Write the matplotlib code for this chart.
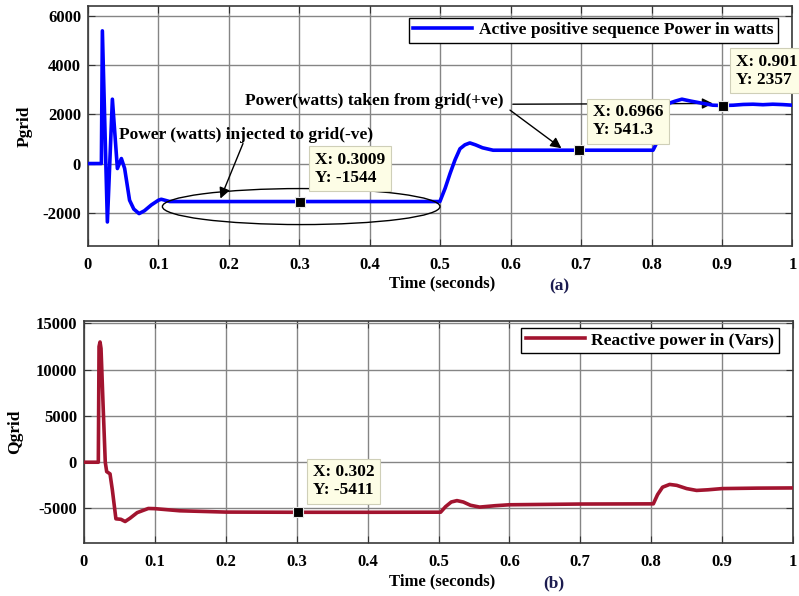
import matplotlib
matplotlib.use("Agg")
import matplotlib.pyplot as plt
from matplotlib.patches import Ellipse

plt.rcParams['font.family'] = ['Liberation Serif', 'DejaVu Serif']
plt.rcParams['font.weight'] = 'bold'
plt.rcParams['axes.labelweight'] = 'bold'
plt.rcParams['axes.unicode_minus'] = False
plt.rcParams['font.size'] = 12

# active power (W) vs time (s)
t_p = [0, 0.019, 0.0204, 0.0275, 0.0346, 0.0417, 0.0474, 0.052, 0.059, 0.065,
       0.0725, 0.08, 0.09, 0.1, 0.104, 0.116, 0.2, 0.3009, 0.4, 0.4995,
       0.507, 0.514, 0.521, 0.528, 0.535, 0.542, 0.55, 0.56, 0.575, 0.6,
       0.6966, 0.802, 0.807, 0.812, 0.818, 0.825, 0.833, 0.843, 0.855, 0.869,
       0.887, 0.901, 0.916, 0.93, 0.944, 0.958, 0.972, 0.986, 1.0]
p_grid = [0, 0, 5390, -2374, 2614, -203, 203, -200, -1490, -1850,
          -2033, -1920, -1680, -1490, -1451, -1544, -1544, -1544, -1544, -1544,
          -1000, -400, 150, 600, 760, 837, 760, 640, 541, 541,
          541.3, 541, 825, 1500, 2100, 2450, 2530, 2614, 2540, 2464,
          2370, 2357, 2370, 2400, 2410, 2390, 2410, 2395, 2370]

# reactive power (var) vs time (s)
t_q = [0, 0.0202, 0.0212, 0.0226, 0.024, 0.027, 0.03, 0.032, 0.0367, 0.04,
       0.045, 0.052, 0.058, 0.065, 0.075, 0.0907, 0.1, 0.135, 0.2, 0.302,
       0.4, 0.503, 0.51, 0.518, 0.526, 0.535, 0.545, 0.558, 0.58, 0.6,
       0.7, 0.803, 0.809, 0.816, 0.826, 0.836, 0.85, 0.864, 0.88, 0.9,
       0.95, 1.0]
q_grid = [0, 0, 12500, 13000, 12300, 6000, 0, -1015, -1260, -3000,
          -6120, -6170, -6410, -6050, -5450, -5000, -5020, -5250, -5390, -5411,
          -5411, -5400, -4800, -4300, -4150, -4300, -4650, -4850, -4700, -4600,
          -4520, -4500, -3500, -2700, -2400, -2500, -2850, -3050, -2980, -2850,
          -2800, -2780]

time_ticks = [0, 0.1, 0.2, 0.3, 0.4, 0.5, 0.6, 0.7, 0.8, 0.9, 1]
time_labels = ['0', '0.1', '0.2', '0.3', '0.4', '0.5', '0.6', '0.7', '0.8', '0.9', '1']
p_ticks = [-2000, 0, 2000, 4000, 6000]
q_ticks = [-5000, 0, 5000, 10000, 15000]

# data tips: (time, value, label, offset in pixels)
p_tips = [(0.3009, -1544, 'X: 0.3009\nY: -1544', (15, 16)),
          (0.6966, 541.3, 'X: 0.6966\nY: 541.3', (14, 12)),
          (0.901, 2357, 'X: 0.901\nY: 2357', (13, 18))]
q_tips = [(0.302, -5411, 'X: 0.302\nY: -5411', (15, 14))]

fig = plt.figure(figsize=(7.99, 5.96), dpi=100)
ax1 = fig.add_axes([88 / 799, 1 - 246 / 596, 704.5 / 799, 240 / 596])
ax2 = fig.add_axes([84 / 799, 1 - 542.7 / 596, 709 / 799, 222 / 596])


def style_axes(ax, yticks, ylim):
    ax.set_xlim(0, 1)
    ax.set_ylim(*ylim)
    ax.set_xticks(time_ticks)
    ax.set_xticklabels(time_labels)
    ax.set_yticks(yticks)
    ax.grid(True, color='#858585', lw=1.0)
    ax.set_axisbelow(True)
    ax.tick_params(direction='in', top=True, right=True, length=5, width=0.8,
                   color='#333333', labelsize=12)
    ax.tick_params(axis='x', pad=8)
    ax.tick_params(axis='y', pad=5)
    for s in ax.spines.values():
        s.set_color('#3a3a3a')
        s.set_linewidth(1.2)


def set_labels(ax, ylabel, xpos, ypos):
    ax.set_xlabel('Time (seconds)', fontsize=12, va='center')
    ax.xaxis.set_label_coords(*xpos)
    ax.set_ylabel(ylabel, fontsize=12.5, va='center')
    ax.yaxis.set_label_coords(*ypos)


def add_tip(ax, x, y, label, off):
    ax.plot(x, y, 's', ms=7.5, color='black', mec='#e8e8e8', mew=0.8, zorder=6)
    ax.annotate(label, xy=(x, y), xytext=off, textcoords='offset pixels',
                ha='left', va='bottom', fontsize=12.5, linespacing=1.15,
                annotation_clip=False, zorder=7,
                bbox=dict(boxstyle='square,pad=0.33', fc='#fdfde6', ec='#cfcfb8', lw=0.8))


def arrow(ax, head, tail):
    ax.annotate('', xy=head, xytext=tail,
                arrowprops=dict(arrowstyle='-|>', color='black', lw=1.0, mutation_scale=16,
                                shrinkA=0, shrinkB=0))


# (a) active power
ax1.plot(t_p, p_grid, color='blue', lw=2.6, label='Active positive sequence Power in watts', zorder=4)
style_axes(ax1, p_ticks, (-3350, 6400))
set_labels(ax1, 'Pgrid', (0.503, -0.154), (-0.09, 0.5))
ax1.legend(loc='upper right', bbox_to_anchor=(0.979, 0.95), borderaxespad=0,
           fancybox=False, edgecolor='black', framealpha=1, handlelength=3.4,
           borderpad=0.25, handletextpad=0.4, fontsize=12.5).get_frame().set_linewidth(1.0)

ax1.add_patch(Ellipse((0.3026, -1748), 0.394, 1463, fill=False, ec='black', lw=1.0, zorder=5))
ax1.text(0.225, 1150, 'Power (watts) injected to grid(-ve)', ha='center', va='center', fontsize=12.5)
arrow(ax1, (0.188, -1423), (0.220, 813))
ax1.text(0.406, 2545, 'Power(watts) taken from grid(+ve)', ha='center', va='center', fontsize=12.5)
arrow(ax1, (0.672, 622), (0.599, 2170))
arrow(ax1, (0.887, 2440), (0.603, 2410))
for x, y, label, off in p_tips:
    add_tip(ax1, x, y, label, off)

# (b) reactive power
ax2.plot(t_q, q_grid, color='#a2142f', lw=2.6, label='Reactive power in (Vars)', zorder=4)
style_axes(ax2, q_ticks, (-8700, 15300))
set_labels(ax2, 'Qgrid', (0.505, -0.176), (-0.097, 0.5))
ax2.legend(loc='upper right', bbox_to_anchor=(0.98, 0.967), borderaxespad=0,
           fancybox=False, edgecolor='black', framealpha=1, handlelength=3.4,
           borderpad=0.25, handletextpad=0.4, fontsize=12.5).get_frame().set_linewidth(1.0)
for x, y, label, off in q_tips:
    add_tip(ax2, x, y, label, off)

fig.text(559 / 799, 1 - 286 / 596, '(a)', ha='center', va='center', color='#1c1c50', fontsize=12.5)
fig.text(554 / 799, 1 - 583 / 596, '(b)', ha='center', va='center', color='#1c1c50', fontsize=12.5)

fig.savefig('out.png', dpi=100)
